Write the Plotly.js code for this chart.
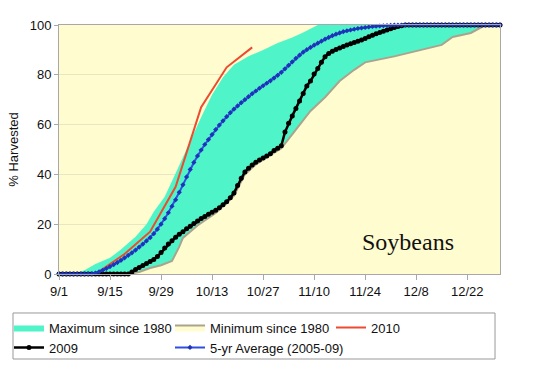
<!DOCTYPE html>
<html><head><meta charset="utf-8">
<script src="https://cdn.plot.ly/plotly-3.0.1.min.js"></script>
<style>html,body{margin:0;padding:0;background:#fff}#chart{width:550px;height:375px}</style>
</head><body><div id="chart"></div>
<script>
// x = days since 9/1
const tickDays = [0, 14, 28, 42, 56, 70, 84, 98, 112];
const tickLabels = ['9/1', '9/15', '9/29', '10/13', '10/27', '11/10', '11/24', '12/8', '12/22'];
const yTicks = [0, 20, 40, 60, 80, 100];

const maxDays = [0, 4, 7, 10, 14, 17, 21, 24, 26, 29, 32, 35, 37, 39, 42, 45, 48, 52, 56, 60, 64, 67, 71, 121];
const maxVals = [0, 0, 1.5, 4, 6.5, 9.8, 15, 20, 25, 31, 40.5, 50, 57, 63, 72, 79, 84, 87.4, 90, 92.8, 95, 97, 100, 100];

const minDays = [0, 19, 22, 25, 28, 31, 33, 34, 36, 38, 40, 43, 46, 48, 51, 54, 57, 61, 65, 69, 73, 77, 81, 84, 92, 98, 105, 108, 113, 117, 121];
const minVals = [0, 0, 0.8, 2.4, 3.5, 5.2, 11, 14.5, 17, 19.5, 21.5, 24.5, 28.5, 31.5, 40, 44, 46.8, 50.5, 58, 65.5, 71, 77.5, 82, 85, 87.4, 89.5, 92, 95.2, 96.8, 100, 100];

const y2010Days = [11, 18, 25, 32, 39, 46, 53];
const y2010Vals = [1, 8, 17, 35, 67, 83, 91];

const dailyDays = [...Array(122).keys()];
const y2009Vals = [
  0,0,0,0,0,0,0,0,0,0, 0,0,0,0,0,0,0,0,0,0,
  0.8,1.8,2.6,3.4,4.2,5.0,5.8,7.0,8.6,10.4,
  12.0,13.4,14.8,16.0,17.0,18.2,19.2,20.3,21.3,22.3,
  23.1,24.0,24.8,25.6,26.6,27.8,29.0,30.6,32.5,35.5,
  38.5,41.0,42.5,43.8,44.9,45.8,46.6,47.4,48.3,49.6,
  50.5,51.5,57.0,60.5,63.5,66.5,69.5,72.5,75.5,77.5,
  80.3,82.5,85.0,87.2,88.6,89.5,90.2,90.8,91.4,92.0,
  92.5,93.0,93.5,94.0,94.6,95.3,95.9,96.5,97.0,97.5,
  98.0,98.5,99.0,99.4,99.7,
  100,100,100,100,100,100,100,100,100,100,100,100,100,100,100,100,100,100,100,100,100,100,100,100,100,100,100
];
const avgVals = [
  0,0,0,0,0,0,0,0,0,0,
  0.4,0.9,1.5,2.2,3.0,3.8,4.6,5.5,6.5,7.5,
  8.5,9.6,10.8,12.0,13.3,14.6,16.2,18.0,20.0,22.2,
  24.6,27.2,29.8,32.8,35.8,39.0,42.0,44.8,47.4,49.8,
  52.0,54.0,56.0,58.0,59.8,61.5,63.2,64.8,66.2,67.5,
  68.8,70.0,71.2,72.4,73.5,74.6,75.6,76.6,77.6,78.7,
  79.8,81.0,82.4,83.8,85.2,86.6,87.9,89.1,90.1,91.0,
  91.9,92.7,93.5,94.3,95.0,95.7,96.3,96.8,97.3,97.7,
  98.0,98.3,98.6,98.8,99.0,99.2,99.4,99.5,99.6,99.7,
  99.8,99.9,
  100,100,100,100,100,100,100,100,100,100,100,100,100,100,100,100,100,100,100,100,100,100,100,100,100,100,100,100,100,100
];

const bg = '#FFFDCF';
const font = 'Liberation Sans, Arial, sans-serif';

const traces = [
  {x: maxDays, y: maxVals, name: 'Maximum since 1980', type: 'scatter', mode: 'lines',
   fill: 'tozeroy', fillcolor: '#4FF5C8', line: {width: 0, color: '#4FF5C8'}},
  {x: minDays, y: minVals, name: 'Minimum since 1980', type: 'scatter', mode: 'lines',
   fill: 'tozeroy', fillcolor: bg, line: {width: 2, color: '#ABA38E'}},
  {x: y2010Days, y: y2010Vals, name: '2010', type: 'scatter', mode: 'lines',
   line: {width: 2, color: '#EE4A30'}, cliponaxis: false},
  {x: dailyDays, y: y2009Vals, name: '2009', type: 'scatter', mode: 'lines+markers',
   line: {width: 2.5, color: '#000'}, marker: {size: 5, color: '#000'}, cliponaxis: false},
  {x: dailyDays, y: avgVals, name: '5-yr Average (2005-09)', type: 'scatter', mode: 'lines+markers',
   line: {width: 2, color: '#2F4FE0'}, marker: {size: 4, symbol: 'diamond', color: '#1E34B8'}, cliponaxis: false}
];

const layout = {
  width: 550, height: 375,
  margin: {l: 59, r: 50, t: 25, b: 101, autoexpand: false},
  paper_bgcolor: '#fff', plot_bgcolor: bg,
  font: {family: font, size: 13, color: '#111'},
  showlegend: true,
  hovermode: false,
  xaxis: {
    range: [0, 121], tickmode: 'array', tickvals: tickDays, ticktext: tickLabels,
    showgrid: false, zeroline: false, showline: true, linecolor: '#A8A8A8', linewidth: 1, mirror: true,
    ticks: 'outside', ticklen: 5, tickcolor: '#A8A8A8', tickfont: {size: 13, family: font, color: '#111'}
  },
  yaxis: {
    range: [0, 100], tickmode: 'array', tickvals: yTicks,
    showgrid: true, gridcolor: '#E9E6C2', zeroline: false, showline: true, linecolor: '#A8A8A8', linewidth: 1, mirror: true,
    ticks: 'outside', ticklen: 4, tickcolor: '#A8A8A8', tickfont: {size: 13, family: font, color: '#111'},
    title: {text: '% Harvested', font: {size: 13, family: font, color: '#111'}, standoff: 8}
  },
  legend: {
    orientation: 'h', x: -0.1134, xanchor: 'left', y: -0.155, yanchor: 'top',
    borderwidth: 0, bgcolor: 'rgba(0,0,0,0)',
    font: {size: 13, family: font, color: '#111'},
    entrywidth: 116, entrywidthmode: 'pixels', itemwidth: 30, traceorder: 'normal'
  },
  shapes: [
    {type: 'rect', xref: 'paper', yref: 'paper', x0: -0.1043, x1: 0.9887, y0: -0.3414, y1: -0.1566,
     line: {color: '#999', width: 1}, fillcolor: 'rgba(0,0,0,0)', layer: 'above'}
  ],
  annotations: [
    {x: 95.7, y: 13, xref: 'x', yref: 'y', text: 'Soybeans', showarrow: false,
     font: {family: 'Liberation Serif, Times New Roman, serif', size: 24, color: '#111'}}
  ]
};

Plotly.newPlot('chart', traces, layout, {displayModeBar: false, staticPlot: true});
</script>
</body></html>
